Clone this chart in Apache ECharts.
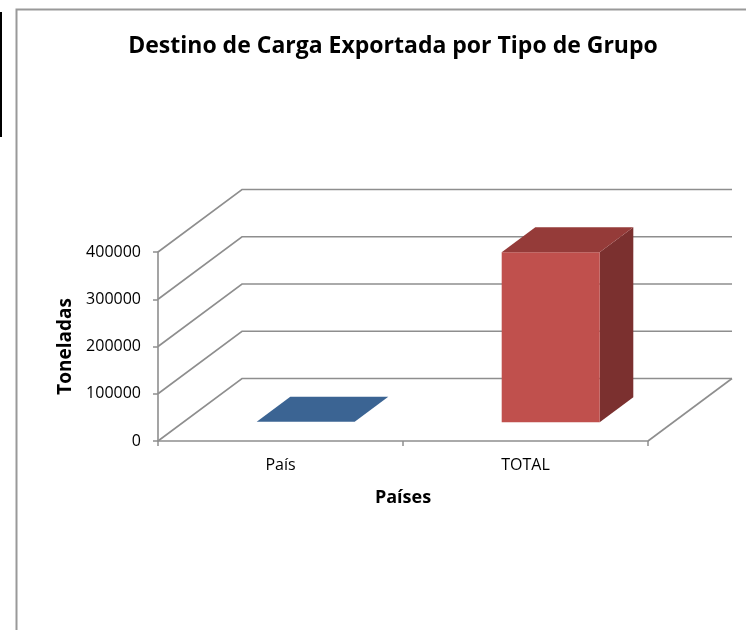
<!DOCTYPE html>
<html>
<head>
<meta charset="utf-8">
<script src="https://cdn.jsdelivr.net/npm/echarts@6/dist/echarts.min.js"></script>
<style>
html,body{margin:0;padding:0;background:#fff;}
#chart{width:746px;height:630px;}
</style>
</head>
<body>
<div id="chart"></div>
<script>
// ---- data ----
var categories = ['País', 'TOTAL'];
var toneladas = [1000, 360000];
var yTicks = [0, 100000, 200000, 300000, 400000];
var titleText = 'Destino de Carga Exportada por Tipo de Grupo';
var xName = 'Países';
var yName = 'Toneladas';

// ---- styling constants ----
var FONT = "'Open Sans', 'Liberation Sans', sans-serif";
var DX = 84, DY = -62.5;       // depth of the 3D box
var T1 = 0.30, T2 = 0.70;      // bar depth position
var BAR_FRAC = 0.40;           // bar width as fraction of band
var GRID_COLOR = '#8e8e8e';
var faceColors = [
  {front: '#4F81BD', top: '#3B6493', side: '#2F5078'},
  {front: '#C0504D', top: '#953B39', side: '#7B302F'}
];

var chart = echarts.init(document.getElementById('chart'), null, {renderer: 'canvas'});

function renderWalls(params, api) {
  var cs = params.coordSys;
  var xl = cs.x, xr = cs.x + cs.width;
  var y = api.coord([0, api.value(1)])[1];
  var children = [{
    type: 'polyline',
    shape: {points: [[xl, y], [xl + DX, y + DY], [xr + DX, y + DY]]},
    style: {stroke: GRID_COLOR, lineWidth: 1.6, fill: null}
  }];
  if (api.value(1) === 0) {
    children.push({
      type: 'line',
      shape: {x1: xr, y1: y, x2: xr + DX, y2: y + DY},
      style: {stroke: GRID_COLOR, lineWidth: 1.6}
    });
  }
  return {type: 'group', children: children};
}

function renderBars(params, api) {
  var idx = api.value(0);
  var base = api.coord([idx, 0]);
  var top = api.coord([idx, api.value(1)]);
  var band = api.size([1, 0])[0];
  var bw = band * BAR_FRAC;
  var c = faceColors[idx];
  var ox = DX * T1, oy = DY * T1;
  var ddx = DX * (T2 - T1), ddy = DY * (T2 - T1);
  var x0 = base[0] - bw / 2 + ox, x1 = base[0] + bw / 2 + ox;
  var yb = base[1] + oy, yt = top[1] + oy;
  var children = [];
  if (yb - yt > 0.5) {
    children.push({
      type: 'polygon',
      shape: {points: [[x1, yt], [x1 + ddx, yt + ddy], [x1 + ddx, yb + ddy], [x1, yb]]},
      style: {fill: c.side}
    });
    children.push({
      type: 'rect',
      shape: {x: x0, y: yt, width: bw, height: yb - yt},
      style: {fill: c.front}
    });
  }
  children.push({
    type: 'polygon',
    shape: {points: [[x0, yt], [x1, yt], [x1 + ddx, yt + ddy], [x0 + ddx, yt + ddy]]},
    style: {fill: c.top}
  });
  return {type: 'group', children: children};
}

var option = {
  animation: false,
  backgroundColor: '#ffffff',
  title: {
    text: titleText,
    left: 388,
    top: 30,
    textAlign: 'center',
    textStyle: {fontFamily: FONT, fontWeight: 'bold', fontSize: 23, color: '#000'}
  },
  graphic: [
    {type: 'rect', shape: {x: 16.5, y: 9.5, width: 900, height: 900},
     style: {fill: null, stroke: '#999999', lineWidth: 2}, silent: true},
    {type: 'rect', shape: {x: 0, y: 12, width: 2, height: 125},
     style: {fill: '#000000'}, silent: true}
  ],
  grid: {left: 158, right: 98, top: 252, bottom: 189},
  xAxis: {
    type: 'category',
    data: categories,
    name: xName,
    nameLocation: 'middle',
    nameGap: 48,
    nameTextStyle: {fontFamily: FONT, fontWeight: 'bold', fontSize: 18, color: '#000'},
    axisLine: {show: true, lineStyle: {color: GRID_COLOR, width: 1.6}},
    axisTick: {show: true, length: 5, lineStyle: {color: GRID_COLOR, width: 1.5}},
    axisLabel: {fontFamily: FONT, fontSize: 16, color: '#000', margin: 16},
    splitLine: {show: false}
  },
  yAxis: {
    type: 'value',
    min: 0,
    max: 400000,
    interval: 100000,
    name: yName,
    nameLocation: 'middle',
    nameRotate: 90,
    nameGap: 83,
    nameTextStyle: {fontFamily: FONT, fontWeight: 'bold', fontSize: 19, color: '#000'},
    axisLine: {show: true, lineStyle: {color: GRID_COLOR, width: 1.6}},
    axisTick: {show: true, length: 5, lineStyle: {color: GRID_COLOR, width: 1.5}},
    axisLabel: {
      fontFamily: FONT, fontSize: 16, color: '#000', margin: 17,
      formatter: function (v) { return String(v); }
    },
    splitLine: {show: false}
  },
  series: [
    {
      type: 'custom',
      renderItem: renderWalls,
      data: yTicks.map(function (v) { return [0, v]; }),
      encode: {x: 0, y: 1},
      silent: true,
      z: 1
    },
    {
      type: 'custom',
      renderItem: renderBars,
      data: toneladas.map(function (v, i) { return [i, v]; }),
      encode: {x: 0, y: 1},
      z: 3
    }
  ]
};
chart.setOption(option);
</script>
</body>
</html>
